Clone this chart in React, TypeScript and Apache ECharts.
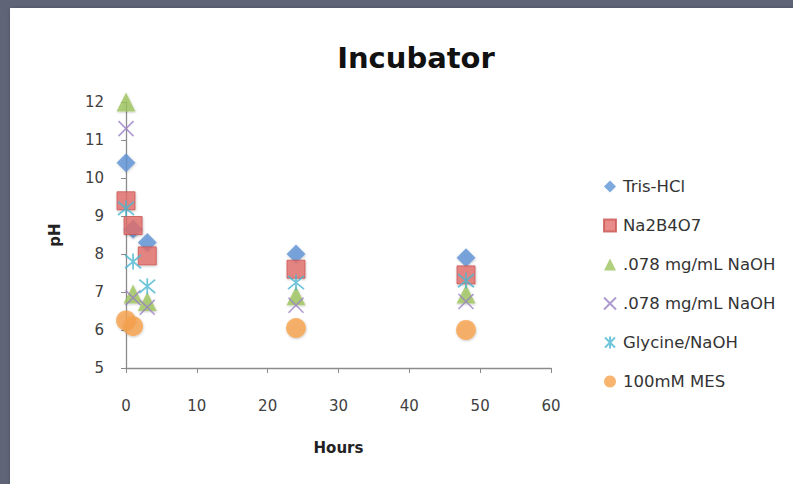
import React, { useEffect, useRef } from "react";
import * as echarts from "echarts";

const hours = [0, 1, 3, 24, 48];
const mesHours = [0, 1, 24, 48];
const trisHCl = [10.4, 8.65, 8.3, 8.0, 7.9];
const na2b4o7 = [9.4, 8.75, 7.95, 7.6, 7.45];
const naoh1 = [12.0, 6.95, 6.75, 6.9, 6.95];
const naoh2 = [11.3, 6.85, 6.6, 6.65, 6.75];
const glycine = [9.2, 7.8, 7.15, 7.25, 7.3];
const mes = [6.25, 6.1, 6.05, 6.0];
const seriesNames = [
  "Tris-HCl",
  "Na2B4O7",
  ".078 mg/mL NaOH",
  ".078 mg/mL NaOH ",
  "Glycine/NaOH",
  "100mM MES",
];

const FONT = "DejaVu Sans";

const pair = (xs: number[], ys: number[]) => xs.map((x, i) => [x, ys[i]]);

const shadow = {
  shadowBlur: 2,
  shadowColor: "rgba(0,0,0,0.25)",
  shadowOffsetX: 0.5,
  shadowOffsetY: 1,
};

export default function App() {
  const ref = useRef<HTMLDivElement>(null);
  useEffect(() => {
    if (!ref.current) return;
    const chart = echarts.init(ref.current, null, { renderer: "svg" });
    const xPath = "path://M0 0L10 10M10 0L0 10";
    const starPath = "path://M0 0L10 10M10 0L0 10M5 -1L5 11";
    chart.setOption({
      animation: false,
      backgroundColor: "#5f6577",
      graphic: [
        {
          type: "rect",
          shape: { x: 10, y: 8, width: 800, height: 490 },
          style: {
            fill: "#ffffff",
            shadowBlur: 4,
            shadowColor: "rgba(0,0,0,0.35)",
            shadowOffsetX: 1,
            shadowOffsetY: 1,
          },
          z: -10,
        },
      ],
      title: {
        text: "Incubator",
        left: 411,
        top: 38,
        textAlign: "center",
        textStyle: {
          fontFamily: FONT,
          fontWeight: "bold",
          fontSize: 29,
          color: "#111111",
        },
      },
      grid: { left: 126, right: 242, top: 102, bottom: 116 },
      legend: {
        orient: "vertical",
        left: 598,
        top: 173,
        itemGap: 22,
        itemWidth: 12,
        itemHeight: 12,
        data: seriesNames,
        textStyle: {
          fontFamily: FONT,
          fontSize: 16.5,
          color: "#333333",
          padding: [0, 0, 0, 2],
        },
        formatter: (n: string) => n.trim(),
      },
      xAxis: {
        type: "value",
        min: 0,
        max: 60,
        interval: 10,
        name: "Hours",
        nameLocation: "middle",
        nameGap: 72,
        nameTextStyle: {
          fontFamily: FONT,
          fontWeight: "bold",
          fontSize: 15,
          color: "#222222",
        },
        axisLine: { show: true, lineStyle: { color: "#8c8c8c", width: 1.3 } },
        axisTick: { show: true, length: 5, lineStyle: { color: "#8c8c8c" } },
        axisLabel: {
          margin: 30,
          fontFamily: FONT,
          fontSize: 15,
          color: "#404040",
        },
        splitLine: { show: false },
      },
      yAxis: {
        type: "value",
        min: 5,
        max: 12,
        interval: 1,
        name: "pH",
        nameLocation: "middle",
        nameRotate: 90,
        nameGap: 64,
        nameTextStyle: {
          fontFamily: FONT,
          fontWeight: "bold",
          fontSize: 15,
          color: "#222222",
        },
        axisLine: { show: true, lineStyle: { color: "#8c8c8c", width: 1.3 } },
        axisTick: { show: true, length: 5, lineStyle: { color: "#8c8c8c" } },
        axisLabel: {
          margin: 22,
          fontFamily: FONT,
          fontSize: 15,
          color: "#404040",
        },
        splitLine: {
          show: true,
          lineStyle: {
            color: "#a0a0a0",
            width: 1.4,
            shadowBlur: 2,
            shadowColor: "rgba(0,0,0,0.2)",
            shadowOffsetY: 1.5,
          },
        },
      },
      series: [
        {
          name: seriesNames[0],
          type: "scatter",
          symbol: "diamond",
          symbolSize: 19,
          data: pair(hours, trisHCl),
          itemStyle: { color: "#5e94d6", ...shadow },
        },
        {
          name: seriesNames[1],
          type: "scatter",
          symbol: "rect",
          symbolSize: 18,
          data: pair(hours, na2b4o7),
          itemStyle: {
            color: "#e46e6b",
            borderColor: "#c95553",
            borderWidth: 1,
            ...shadow,
          },
        },
        {
          name: seriesNames[2],
          type: "scatter",
          symbol: "triangle",
          symbolSize: 19,
          data: pair(hours, naoh1),
          itemStyle: { color: "#9dc45c", ...shadow },
        },
        {
          name: seriesNames[3],
          type: "scatter",
          symbol: xPath,
          symbolSize: 15,
          data: pair(hours, naoh2),
          itemStyle: {
            color: "rgba(0,0,0,0)",
            borderColor: "#9a80c4",
            borderWidth: 1.6,
          },
        },
        {
          name: seriesNames[4],
          type: "scatter",
          symbol: starPath,
          symbolSize: 16,
          data: pair(hours, glycine),
          itemStyle: {
            color: "rgba(0,0,0,0)",
            borderColor: "#4bb6cf",
            borderWidth: 1.8,
          },
        },
        {
          name: seriesNames[5],
          type: "scatter",
          symbol: "circle",
          symbolSize: 20,
          data: pair(mesHours, mes),
          itemStyle: { color: "#f8a34c", ...shadow },
        },
      ],
    });
    return () => chart.dispose();
  }, []);
  return (
    <div
      ref={ref}
      style={{ position: "fixed", left: 0, top: 0, width: 793, height: 484 }}
    />
  );
}
